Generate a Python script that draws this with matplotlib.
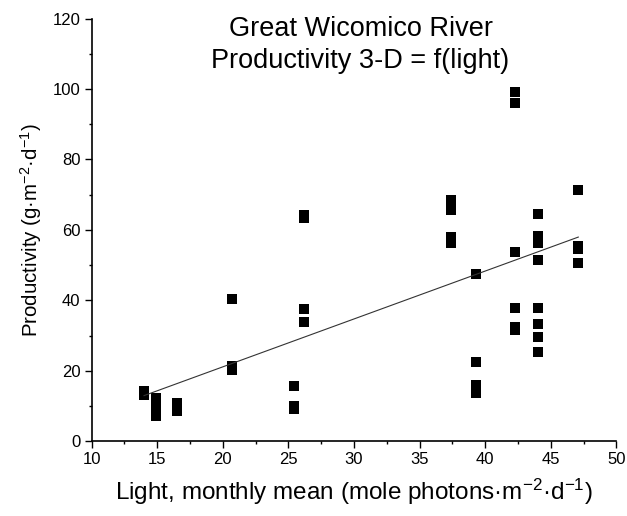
import numpy as np
import matplotlib
matplotlib.use("Agg")
import matplotlib.pyplot as plt
from matplotlib.ticker import MultipleLocator

plt.rcParams['font.family'] = ['Liberation Sans', 'DejaVu Sans']
plt.rcParams['mathtext.default'] = 'regular'

# monthly mean light vs productivity, Great Wicomico River
light = [14.0, 14.0,
         14.9, 14.9, 14.9, 14.9,
         16.5, 16.5, 16.5,
         20.7, 20.7, 20.7,
         25.4, 25.4, 25.4,
         26.2, 26.2, 26.2, 26.2,
         37.4, 37.4, 37.4, 37.4,
         39.3, 39.3, 39.3, 39.3, 39.3,
         42.3, 42.3, 42.3, 42.3, 42.3, 42.3,
         44.0, 44.0, 44.0, 44.0, 44.0, 44.0, 44.0, 44.0, 44.0,
         47.1, 47.1, 47.1, 47.1]
productivity = [14.3, 13.1,
                12.4, 11.2, 8.2, 7.2,
                10.9, 9.8, 8.6,
                40.3, 21.3, 20.2,
                15.8, 10.0, 9.2,
                64.3, 63.5, 37.5, 33.7,
                68.5, 65.6, 57.9, 56.3,
                47.4, 22.4, 16.0, 14.8, 13.6,
                99.2, 96.1, 53.8, 37.9, 32.3, 31.5,
                64.4, 58.4, 57.2, 56.2, 51.4, 37.7, 33.4, 29.5, 25.4,
                71.3, 55.5, 54.5, 50.5]

# linear fit reported with the data
fit_slope = 1.36
fit_intercept = -6.1

x = np.array(light)
y = np.array(productivity)
xfit = np.array([x.min(), x.max()])

fig = plt.figure(figsize=(6.27, 5.16), dpi=100)
ax = fig.add_axes([0.146, 0.145, 0.837, 0.819])

ax.plot(x, y, 's', color='black', markersize=6.5, markeredgewidth=0)
ax.plot(xfit, fit_slope * xfit + fit_intercept, color='#333333', linewidth=0.8)

ax.set_xlim(10, 50)
ax.set_ylim(0, 120)
ax.xaxis.set_major_locator(MultipleLocator(5))
ax.xaxis.set_minor_locator(MultipleLocator(2.5))
ax.yaxis.set_major_locator(MultipleLocator(20))
ax.yaxis.set_minor_locator(MultipleLocator(10))
ax.tick_params(which='major', direction='out', length=5, width=1, labelsize=12, pad=3)
ax.tick_params(which='minor', direction='out', length=2.5, width=1)
ax.spines['top'].set_visible(False)
ax.spines['right'].set_visible(False)
ax.spines['left'].set_linewidth(1.2)
ax.spines['bottom'].set_linewidth(1.2)

ax.set_xlabel('Light, monthly mean (mole photons·m$^{-2}$·d$^{-1}$)', fontsize=17.5, labelpad=7)
ax.set_ylabel('Productivity (g·m$^{-2}$·d$^{-1}$)', fontsize=14.8, labelpad=6)

fig.text(0.575, 0.944, 'Great Wicomico River', ha='center', va='center', fontsize=19.5)
fig.text(0.575, 0.882, 'Productivity 3-D = f(light)', ha='center', va='center', fontsize=19.5)

fig.savefig('out.png', dpi=100)
